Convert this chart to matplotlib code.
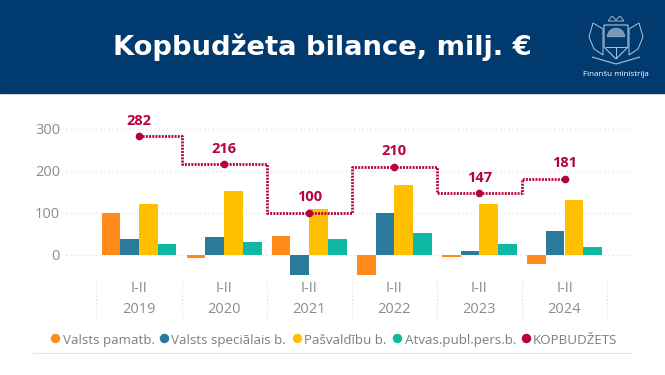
import matplotlib
matplotlib.use("Agg")
import matplotlib.pyplot as plt
from matplotlib.patches import Rectangle, Polygon, Wedge
from matplotlib.lines import Line2D
import numpy as np

years = ["2019", "2020", "2021", "2022", "2023", "2024"]
period = "I-II"
pamatb = [100, -9, 44, -50, -5, -23]
specb = [36, 41, -50, 99, 9, 55]
pasv = [120, 152, 108, 165, 120, 129]
atvas = [26, 31, 37, 52, 25, 19]
total = [282, 216, 100, 210, 147, 181]
series_names = ["Valsts pamatb.", "Valsts speciālais b.", "Pašvaldību b.", "Atvas.publ.pers.b.", "KOPBUDŽETS"]
colors = ["#FF8C1A", "#2B7A9B", "#FFC000", "#0FB8A5", "#B8003F"]
yticks = [0, 100, 200, 300]

W, H = 665, 375
plt.rcParams["font.family"] = ["Open Sans", "DejaVu Sans"]
fig = plt.figure(figsize=(W / 100, H / 100), dpi=100, facecolor="white")

def fx(x): return x / W
def fy(y): return 1 - y / H

# Header band
fig.add_artist(Rectangle((0, fy(93)), 1, 93 / H, transform=fig.transFigure, color="#003A6E", zorder=0))
fig.text(fx(322.5), fy(47), "Kopbudžeta bilance, milj. €", color="white", fontsize=19.7,
         fontweight="bold", family="DejaVu Sans", ha="center", va="center")
fig.text(fx(616), fy(74), "Finanšu ministrija", color="white", fontsize=5.8, ha="center", va="center")

# Small crest sketch
lg = fig.add_axes([fx(582), fy(67), 68 / W, 54 / H])
lg.set_xlim(0, 68); lg.set_ylim(0, 54); lg.axis("off")
c = "#AFC3D6"
lg.add_patch(Polygon([[22, 42], [46, 42], [46, 20], [34, 8], [22, 20]], fill=False, ec=c, lw=0.8))
lg.add_patch(Wedge((34, 30), 9, 0, 180, fc=c, ec=c, lw=0.3, alpha=0.7))
lg.add_patch(Polygon([[26, 46], [30, 51], [34, 47], [38, 51], [42, 46]], fill=False, ec=c, lw=0.6))
lg.add_patch(Polygon([[21, 38], [11, 44], [7, 30], [12, 18], [21, 12]], fill=False, ec=c, lw=0.7))
lg.add_patch(Polygon([[47, 38], [57, 44], [61, 30], [56, 18], [47, 12]], fill=False, ec=c, lw=0.7))
lg.add_patch(Polygon([[10, 10], [34, 3], [58, 10]], closed=False, fill=False, ec=c, lw=0.8))
lg.add_line(Line2D([24, 44], [20, 20], color=c, lw=0.7))
lg.add_line(Line2D([34, 34], [10, 20], color=c, lw=0.7))

# Plot area
left, right, top, bottom = 66, 630, 120, 278
ax = fig.add_axes([fx(left), fy(bottom), (right - left) / W, (bottom - top) / H])
px_per_unit = 85.1
x0 = 139
ax.set_xlim((left - x0) / px_per_unit, (right - x0) / px_per_unit)
ppv = 41.9 / 100
y0 = 254.5
ax.set_ylim((y0 - bottom) / ppv, (y0 - top) / ppv)

x = np.arange(len(years))
w = 0.22
for i, (vals, col) in enumerate(zip([pamatb, specb, pasv, atvas], colors)):
    ax.bar(x + (i - 1.5) * w, vals, w, color=col, zorder=2, label=series_names[i])

ax.step(x, total, where="mid", color=colors[4], lw=2.0, ls=(0, (0.7, 0.45)), zorder=3)
ax.plot(x, total, ls="none", marker="o", ms=4.5, color=colors[4], zorder=4)
for xi, t in zip(x, total):
    ax.annotate(str(t), (xi, t), xytext=(0, 6), textcoords="offset points", ha="center", va="bottom",
                color=colors[4], fontsize=10.5, fontweight="bold", zorder=5)

ax.set_yticks(yticks)
ax.set_yticklabels([str(v) for v in yticks], color="#8C8C8C", fontsize=10.5)
ax.grid(axis="y", color="#E4E4E4", lw=1, ls=(0, (1, 2)), zorder=0)
ax.set_axisbelow(True)

ax.set_xticks(x)
ax.set_xticklabels([f"{period}\n{y}" for y in years], color="#8C8C8C", fontsize=10.5, linespacing=1.55)
ax.tick_params(axis="x", length=0, pad=2)
ax.tick_params(axis="y", length=0, pad=4.3)
# dotted category separators below the plot
ax.vlines(np.arange(-0.5, len(years)), (y0 - 320) / ppv, (y0 - 277) / ppv,
          color="#DADADA", lw=0.8, ls=(0, (1, 2)), clip_on=False, zorder=1)
for s in ax.spines.values():
    s.set_visible(False)

# Legend (manual row with round markers)
dot_x = [55, 164, 297, 397, 526]
text_x = [63, 171, 304, 405, 533]
for name, col, xp, tx in zip(series_names, colors, dot_x, text_x):
    fig.add_artist(Line2D([fx(xp)], [fy(338)], marker="o", ms=5.8, color=col, ls="none", transform=fig.transFigure))
    fig.text(fx(tx), fy(344), name, color="#7F7F7F", fontsize=9.6, ha="left", va="baseline")
fig.add_artist(Line2D([fx(33), fx(631)], [fy(353), fy(353)], color="#E4E4E4", lw=0.8, transform=fig.transFigure))

fig.savefig("out.png", dpi=100)
